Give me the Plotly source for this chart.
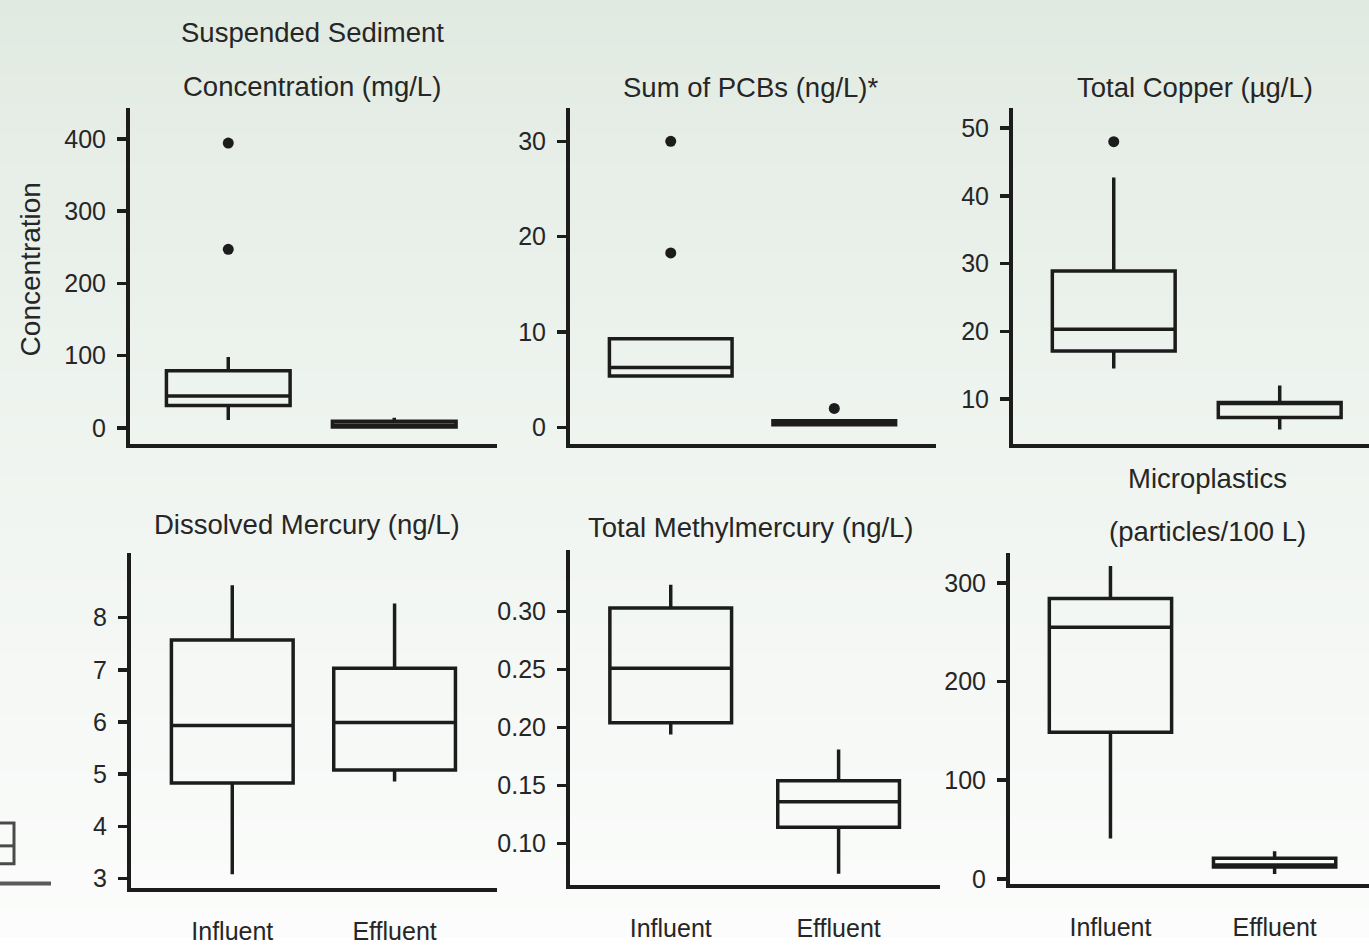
import plotly.graph_objects as go

W, H = 1369, 945
TITLEF = "Liberation Sans, Arial, Roboto, sans-serif"
REG = "Liberation Sans, Arial, sans-serif"
INK = "#1c1c1c"
TXT = "#262626"

categories = ["Influent", "Effluent"]

# ---- data ----
ssc_q1 = [31, 1]; ssc_med = [44, 4]; ssc_q3 = [79, 9]; ssc_lo = [11, 0.5]; ssc_hi = [98, 14]
ssc_out_x = ["Influent", "Influent"]; ssc_out_y = [394, 247]

pcb_q1 = [5.4, 0.3]; pcb_med = [6.3, 0.5]; pcb_q3 = [9.3, 0.7]; pcb_lo = [5.4, 0.3]; pcb_hi = [9.3, 0.7]
pcb_out_x = ["Influent", "Influent", "Effluent"]; pcb_out_y = [30.0, 18.3, 2.0]

cu_q1 = [17.1, 7.3]; cu_med = [20.3, 9.4]; cu_q3 = [28.9, 9.5]; cu_lo = [14.5, 5.5]; cu_hi = [42.7, 12.0]
cu_out_x = ["Influent"]; cu_out_y = [48.0]

hg_q1 = [4.83, 5.08]; hg_med = [5.93, 5.99]; hg_q3 = [7.57, 7.03]; hg_lo = [3.08, 4.86]; hg_hi = [8.62, 8.27]

mehg_q1 = [0.204, 0.114]; mehg_med = [0.251, 0.136]; mehg_q3 = [0.303, 0.154]
mehg_lo = [0.194, 0.074]; mehg_hi = [0.323, 0.181]

mp_q1 = [148.5, 12]; mp_med = [255, 14]; mp_q3 = [284, 21]; mp_lo = [41, 5]; mp_hi = [317, 28]

titles = [
    ["Suspended Sediment", "Concentration (mg/L)"],
    ["Sum of PCBs (ng/L)*"],
    ["Total Copper (µg/L)"],
    ["Dissolved Mercury (ng/L)"],
    ["Total Methylmercury (ng/L)"],
    ["Microplastics", "(particles/100 L)"],
]

y_ticks = [
    [0, 100, 200, 300, 400],
    [0, 10, 20, 30],
    [10, 20, 30, 40, 50],
    [3, 4, 5, 6, 7, 8],
    [0.10, 0.15, 0.20, 0.25, 0.30],
    [0, 100, 200, 300],
]
y_tick_text = [
    ["0", "100", "200", "300", "400"],
    ["0", "10", "20", "30"],
    ["10", "20", "30", "40", "50"],
    ["3", "4", "5", "6", "7", "8"],
    ["0.10", "0.15", "0.20", "0.25", "0.30"],
    ["0", "100", "200", "300"],
]

panels_data = [
    (ssc_q1, ssc_med, ssc_q3, ssc_lo, ssc_hi, ssc_out_x, ssc_out_y),
    (pcb_q1, pcb_med, pcb_q3, pcb_lo, pcb_hi, pcb_out_x, pcb_out_y),
    (cu_q1, cu_med, cu_q3, cu_lo, cu_hi, cu_out_x, cu_out_y),
    (hg_q1, hg_med, hg_q3, hg_lo, hg_hi, [], []),
    (mehg_q1, mehg_med, mehg_q3, mehg_lo, mehg_hi, [], []),
    (mp_q1, mp_med, mp_q3, mp_lo, mp_hi, [], []),
]

# ---- layout geometry (pixels) ----
geo = [  # (left, right, top, bottom) of plot areas
    (130, 497, 109, 448),
    (570, 936, 109, 448),
    (1013, 1369, 109, 448),
    (131, 497, 558, 897),
    (570, 940, 555, 894),
    (1010, 1369, 558, 893),
]
x_ranges = [
    [-0.592, 1.619],
    [-0.616, 1.622],
    [-0.607, 1.538],
    [-0.624, 1.631],
    [-0.600, 1.604],
    [-0.612, 1.575],
]
y_ranges = [
    [-22, 442.6],
    [-1.70, 33.5],
    [3.41, 52.97],
    [2.81, 9.243],
    [0.0638, 0.3533],
    [-5.63, 330.5],
]
box_widths = [0.745, 0.75, 0.74, 0.75, 0.725, 0.745]
title_pos = [  # (center x, [center y per line])
    (312, [33, 87]),
    (751, [88]),
    (1195, [88]),
    (307, [530]),
    (751, [533]),
    (1207, [483, 537]),
]

fig = go.Figure()
layout = dict(
    width=W, height=H,
    margin=dict(l=0, r=0, t=0, b=0),
    paper_bgcolor="rgba(0,0,0,0)",
    plot_bgcolor="rgba(0,0,0,0)",
    showlegend=False,
    font=dict(family=TITLEF, color=TXT),
)

for i, (stats, g) in enumerate(zip(panels_data, geo)):
    q1, med, q3, lo, hi, ox, oy = stats
    n = "" if i == 0 else str(i + 1)
    xa, ya = "x" + n, "y" + n
    fig.add_trace(go.Box(
        x=categories, q1=q1, median=med, q3=q3, lowerfence=lo, upperfence=hi,
        width=box_widths[i], whiskerwidth=0, boxpoints=False,
        line=dict(color=INK, width=3.5), fillcolor="rgba(0,0,0,0)",
        xaxis=xa, yaxis=ya, hoverinfo="skip",
    ))
    if ox:
        fig.add_trace(go.Scatter(
            x=ox, y=oy, mode="markers",
            marker=dict(color=INK, size=11, line=dict(width=0)),
            xaxis=xa, yaxis=ya, hoverinfo="skip",
        ))
    l, r, t, b = g
    bottom_row = i >= 3
    layout["xaxis" + n] = dict(
        domain=[l / W, r / W], anchor=ya, type="category",
        categoryorder="array", categoryarray=categories,
        range=x_ranges[i], showline=True, linecolor=INK, linewidth=4,
        showgrid=False, zeroline=False, ticks="",
        showticklabels=bottom_row,
        tickfont=dict(family=TITLEF, size=25, color=TXT),
        ticklabelstandoff=18,
    )
    layout["yaxis" + n] = dict(
        domain=[1 - b / H, 1 - t / H], anchor=xa,
        range=y_ranges[i], showline=True, linecolor=INK, linewidth=4,
        showgrid=False, zeroline=False,
        ticks="outside", ticklen=9, tickwidth=3.5, tickcolor=INK,
        tickvals=y_ticks[i], ticktext=y_tick_text[i],
        tickfont=dict(family=REG, size=25, color=TXT),
        ticklabelstandoff=6,
    )

annotations = []
for i, (cx, ys) in enumerate(title_pos):
    for line, cy in zip(titles[i], ys):
        annotations.append(dict(
            text=line, x=cx / W, y=1 - cy / H, xref="paper", yref="paper",
            xanchor="center", yanchor="middle", showarrow=False,
            font=dict(family=TITLEF, size=27.5, color=TXT),
        ))
annotations.append(dict(
    text="Concentration", x=30 / W, y=1 - 272 / H, xref="paper", yref="paper",
    xanchor="center", yanchor="middle", textangle=-90, showarrow=False,
    font=dict(family=TITLEF, size=28, color=TXT),
))
layout["annotations"] = annotations

# background gradient (light green to near white) drawn as thin bands
def mix(c1, c2, f):
    return "rgb(%d,%d,%d)" % tuple(round(a + (b_ - a) * f) for a, b_ in zip(c1, c2))

top_c = (224, 234, 225)
bot_c = (251, 252, 251)
shapes = []
nb = 63
for k in range(nb):
    f = (k / (nb - 1)) ** 0.8
    y0 = 1 - k * (H / nb) / H
    y1 = 1 - (k + 1) * (H / nb) / H
    shapes.append(dict(type="rect", xref="paper", yref="paper", x0=0, x1=1,
                       y0=y1 - 0.002, y1=y0, fillcolor=mix(top_c, bot_c, f),
                       line=dict(width=0), layer="below"))
# cropped fragment of a neighbouring legend at the far left edge
shapes.append(dict(type="rect", xref="paper", yref="paper",
                   x0=-6 / W, x1=14 / W, y0=1 - 872 / H, y1=1 - 831 / H,
                   line=dict(color="#4a4a4a", width=3), fillcolor="rgba(0,0,0,0)"))
shapes.append(dict(type="line", xref="paper", yref="paper",
                   x0=0, x1=14 / W, y0=1 - 854 / H, y1=1 - 854 / H,
                   line=dict(color="#4a4a4a", width=3)))
shapes.append(dict(type="line", xref="paper", yref="paper",
                   x0=0, x1=51 / W, y0=1 - 892 / H, y1=1 - 892 / H,
                   line=dict(color="#5a5a5a", width=4)))
layout["shapes"] = shapes

fig.update_layout(**layout)
fig.write_html(
    "out.html",
    config={"displayModeBar": False, "staticPlot": True},
    post_script="document.body.style.margin='0';document.body.style.overflow='hidden';",
)
